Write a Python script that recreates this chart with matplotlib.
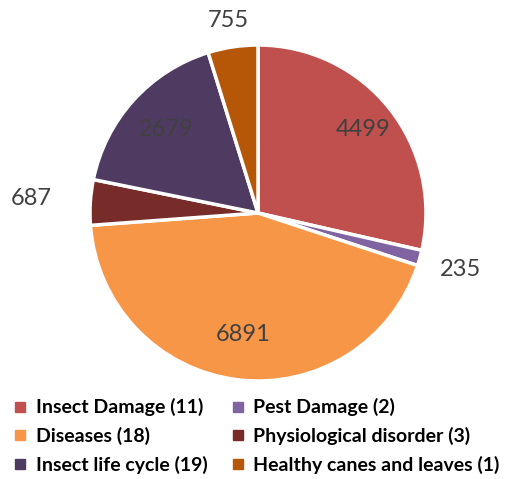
import numpy as np
import matplotlib.pyplot as plt
from matplotlib.lines import Line2D

labels = ['Insect Damage (11)', 'Pest Damage (2)', 'Diseases (18)',
          'Physiological disorder (3)', 'Insect life cycle (19)',
          'Healthy canes and leaves (1)']
values = [4499, 235, 6891, 687, 2679, 755]
colors = ['#C0504D', '#8064A2', '#F79646', '#772C2A', '#4F3B62', '#B65708']

# radial position of each value label (fraction of radius)
label_r = [0.80, 1.25, 0.73, 1.35, 0.74, 1.16]

fig = plt.figure(figsize=(5.15, 4.79), dpi=100)
R = 168
cx, cy = 258, 479 - 213
ax = fig.add_axes([(cx - R) / 515, (cy - R) / 479, 2 * R / 515, 2 * R / 479])

wedges, _ = ax.pie(values, colors=colors, startangle=90, counterclock=False,
                   wedgeprops=dict(edgecolor='white', linewidth=2.5))
ax.set_xlim(-1, 1)
ax.set_ylim(-1, 1)

for w, v, r in zip(wedges, values, label_r):
    ang = np.radians((w.theta1 + w.theta2) / 2)
    ax.text(r * np.cos(ang), r * np.sin(ang), str(v), ha='center', va='center',
            fontsize=17, color='#404040', family='Lato', clip_on=False)

handles = [Line2D([], [], marker='s', linestyle='none', markersize=7,
                  markerfacecolor=c, markeredgecolor=c) for c in colors]
order = [0, 2, 4, 1, 3, 5]
fig.legend([handles[i] for i in order], [labels[i] for i in order], ncol=2,
           loc='lower left', bbox_to_anchor=(-0.008, -0.026), frameon=False,
           prop=dict(family='Lato', weight='bold', size=14),
           handlelength=0.7, handletextpad=0.45, columnspacing=1.2,
           labelspacing=0.55)

fig.savefig('out.png', dpi=100)
